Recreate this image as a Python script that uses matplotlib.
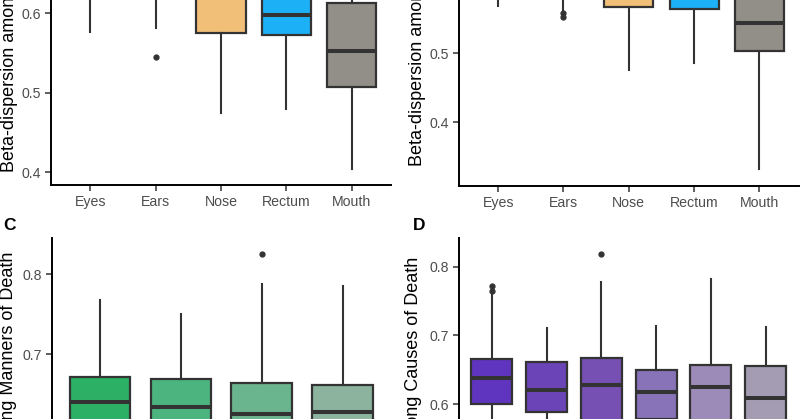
import matplotlib.pyplot as plt
import numpy as np

plt.rcParams["font.family"] = ["Liberation Sans", "DejaVu Sans"]

W, H = 800, 419  # px

# panel A: beta-dispersion among body sites (cohort 1)
sites = ["Eyes", "Ears", "Nose", "Rectum", "Mouth"]
a_whislo = [0.576, 0.582, 0.475, 0.480, 0.404]
a_q1 = [0.640, 0.650, 0.575, 0.5725, 0.507]
a_med = [0.675, 0.680, 0.640, 0.5985, 0.553]
a_q3 = [0.710, 0.715, 0.680, 0.640, 0.6136]
a_whishi = [0.780, 0.790, 0.760, 0.720, 0.700]
a_fliers = [[], [0.5455], [], [], []]

# panel B: beta-dispersion among body sites (cohort 2)
b_whislo = [0.569, 0.563, 0.4757, 0.486, 0.3316]
b_q1 = [0.620, 0.610, 0.567, 0.5645, 0.5033]
b_med = [0.650, 0.640, 0.610, 0.600, 0.5446]
b_q3 = [0.680, 0.670, 0.640, 0.630, 0.590]
b_whishi = [0.720, 0.710, 0.690, 0.680, 0.660]
b_fliers = [[], [0.558, 0.553], [], [], []]

site_colors = ["#E8766D", "#B79F3A", "#F2BF78", "#1CB0F6", "#928F88"]

# panel C: manners of death
manners = ["Natural", "Accident", "Suicide", "Homicide"]
c_whislo = [0.520, 0.515, 0.505, 0.510]
c_q1 = [0.600, 0.598, 0.592, 0.594]
c_med = [0.6396, 0.6342, 0.6246, 0.628]
c_q3 = [0.6716, 0.6684, 0.6638, 0.661]
c_whishi = [0.7675, 0.7496, 0.7875, 0.7854]
c_fliers = [[], [], [0.8246], []]
c_colors = ["#2CB066", "#4CB47E", "#6AB48E", "#8CB39E"]

# panel D: causes of death
causes = ["Cardio", "Drug", "Trauma", "Pulmonary", "Other", "Unknown"]
d_whislo = [0.515, 0.505, 0.500, 0.505, 0.500, 0.495]
d_q1 = [0.600, 0.5885, 0.575, 0.578, 0.576, 0.570]
d_med = [0.6384, 0.621, 0.6283, 0.618, 0.6253, 0.6093]
d_q3 = [0.6657, 0.6617, 0.6667, 0.6496, 0.6574, 0.655]
d_whishi = [0.762, 0.7103, 0.7777, 0.7141, 0.782, 0.7118]
d_fliers = [[0.7719, 0.765], [], [0.818], [], [], []]
d_colors = ["#5F35C0", "#6B44B8", "#7650B3", "#8872B8", "#9C8AB8", "#A49CB3"]


def make_axes(fig, left, right, y_px, y_val, px_per_unit, ylo, yhi):
    # place an axes in pixel terms; y_px is the pixel row (from top) of y_val
    top_px = y_px - (yhi - y_val) * px_per_unit
    bot_px = y_px + (y_val - ylo) * px_per_unit
    ax = fig.add_axes([left / W, (H - bot_px) / H, (right - left) / W, (bot_px - top_px) / H])
    ax.set_ylim(ylo, yhi)
    return ax


def draw_box(ax, labels, whislo, q1, med, q3, whishi, fliers, colors, ticks):
    stats = []
    for i in range(len(labels)):
        stats.append(dict(label=labels[i], whislo=whislo[i], q1=q1[i], med=med[i],
                          q3=q3[i], whishi=whishi[i], fliers=fliers[i]))
    bp = ax.bxp(stats, positions=np.arange(1, len(labels) + 1), widths=0.75,
                patch_artist=True, showcaps=False,
                boxprops=dict(edgecolor="#333333", linewidth=1.6),
                medianprops=dict(color="#333333", linewidth=2.9, solid_capstyle="butt"),
                whiskerprops=dict(color="#333333", linewidth=1.5),
                flierprops=dict(marker="o", markerfacecolor="#333333",
                                markeredgecolor="#333333", markersize=3.5))
    for patch, c in zip(bp["boxes"], colors):
        patch.set_facecolor(c)
    ax.set_xlim(0.4, len(labels) + 0.6)
    ax.set_yticks(ticks)
    ax.set_yticklabels(["%.1f" % t for t in ticks])
    ax.spines["top"].set_visible(False)
    ax.spines["right"].set_visible(False)
    ax.spines["left"].set_linewidth(1.4)
    ax.spines["bottom"].set_linewidth(1.4)
    ax.tick_params(axis="both", colors="#333333", labelcolor="#4D4D4D",
                   labelsize=10.2, length=4, width=1.1, pad=3)


fig = plt.figure(figsize=(W / 100, H / 100), dpi=100)

ax_a = make_axes(fig, 51, 391, 92.7, 0.5, 793, 0.383, 0.83)
draw_box(ax_a, sites, a_whislo, a_q1, a_med, a_q3, a_whishi, a_fliers, site_colors,
         [0.4, 0.5, 0.6, 0.7, 0.8])

ax_b = make_axes(fig, 459, 798.5, 53.3, 0.5, 687, 0.307, 0.75)
draw_box(ax_b, sites, b_whislo, b_q1, b_med, b_q3, b_whishi, b_fliers, site_colors,
         [0.4, 0.5, 0.6, 0.7])

ax_c = make_axes(fig, 51.5, 391, 274, 0.8, 800, 0.45, 0.8446)
draw_box(ax_c, manners, c_whislo, c_q1, c_med, c_q3, c_whishi, c_fliers, c_colors,
         [0.5, 0.6, 0.7, 0.8])

ax_d = make_axes(fig, 459, 798.5, 266.7, 0.8, 687, 0.45, 0.8413)
draw_box(ax_d, causes, d_whislo, d_q1, d_med, d_q3, d_whishi, d_fliers, d_colors,
         [0.5, 0.6, 0.7, 0.8])

# y labels, anchored where the reference shows them
fig.text(10 / W, 1 - 172 / H, "Beta-dispersion among Body Sites", rotation=90,
         ha="center", va="bottom", fontsize=13)
fig.text(417 / W, 1 - 166 / H, "Beta-dispersion among Body Sites", rotation=90,
         ha="center", va="bottom", fontsize=13)
fig.text(9 / W, 1 - 252 / H, "Beta-dispersion among Manners of Death", rotation=90,
         ha="center", va="top", fontsize=13)
fig.text(413 / W, 1 - 257 / H, "Beta-dispersion among Causes of Death", rotation=90,
         ha="center", va="top", fontsize=13)

fig.text(10 / W, 1 - 225 / H, "C", fontsize=12.5, fontweight="bold", va="center", ha="center")
fig.text(419 / W, 1 - 225 / H, "D", fontsize=12.5, fontweight="bold", va="center", ha="center")

fig.savefig("out.png", dpi=100)
